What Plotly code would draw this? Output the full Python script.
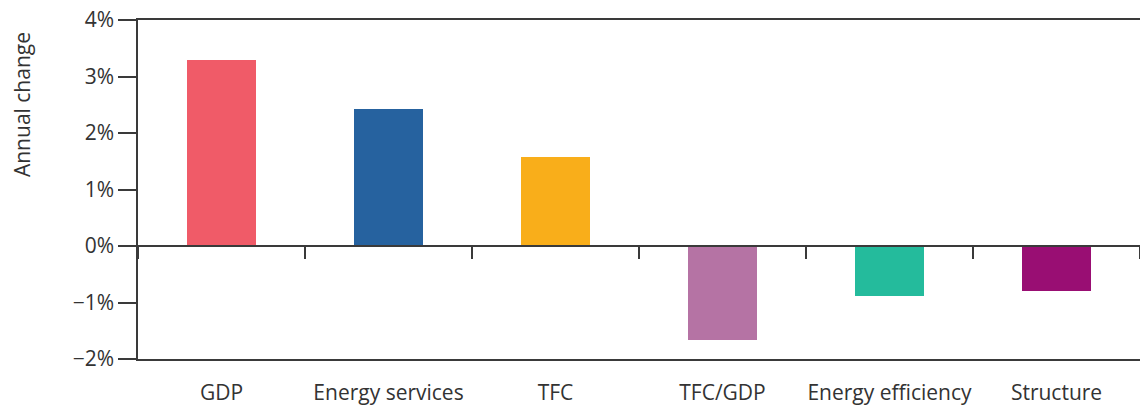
import plotly.graph_objects as go

categories = ["GDP", "Energy services", "TFC", "TFC/GDP", "Energy efficiency", "Structure"]
values = [3.29, 2.42, 1.58, -1.66, -0.88, -0.80]
colors = ["#F05B68", "#26629F", "#F9AE1A", "#B573A4", "#24BB9C", "#990E73"]
y_ticks = [-2, -1, 0, 1, 2, 3, 4]
y_tick_labels = ["\u22122%", "\u22121%", "0%", "1%", "2%", "3%", "4%"]

LINE = "#3a3a3a"
FONT = "Open Sans"
TXT = "#333333"

fig = go.Figure()
fig.add_trace(go.Bar(x=categories, y=values, marker=dict(color=colors, line=dict(width=0)),
                     width=0.41, showlegend=False, hoverinfo="x+y"))
# invisible trace to activate the zero-level axis
fig.add_trace(go.Scatter(x=categories, y=[0]*len(categories), xaxis="x2", mode="markers",
                         marker=dict(opacity=0), showlegend=False, hoverinfo="skip"))

fig.update_layout(
    width=1140, height=406,
    margin=dict(l=138, r=0, t=20, b=47, autoexpand=False),
    paper_bgcolor="white", plot_bgcolor="white",
    font=dict(family=FONT, size=21, color=TXT),
    xaxis=dict(type="category", categoryorder="array", categoryarray=categories,
               range=[-0.5, 5.5], showline=True, linecolor=LINE, linewidth=1.5, mirror=True,
               ticks="", showgrid=False, zeroline=False, ticklabelstandoff=14, automargin=False,
               tickfont=dict(family=FONT, size=21, color=TXT)),
    xaxis2=dict(type="category", categoryorder="array", categoryarray=categories,
                range=[-0.5, 5.5], overlaying="x", anchor="free", position=1/3,
                side="bottom", showline=True, linecolor=LINE, linewidth=1.5,
                ticks="outside", tickson="boundaries", ticklen=12, tickwidth=1.5,
                tickcolor=LINE, showticklabels=False, showgrid=False, zeroline=False,
                automargin=False),
    yaxis=dict(range=[-2, 4], tickvals=y_ticks, ticktext=y_tick_labels,
               showline=True, linecolor=LINE, linewidth=1.5, ticks="outside",
               ticklen=18, tickwidth=1.5, tickcolor=LINE, showgrid=False, zeroline=False,
               automargin=False, tickfont=dict(family=FONT, size=21, color=TXT)),
    bargap=0,
)
fig.add_annotation(text="Annual change", xref="paper", yref="paper", x=-0.1158, y=0.752,
                   textangle=-90, showarrow=False, xanchor="center", yanchor="middle",
                   font=dict(family=FONT, size=21, color=TXT))

fig.write_html("out.html", config={"displayModeBar": False},
               post_script="document.body.style.margin='0px';document.body.style.overflow='hidden';")
